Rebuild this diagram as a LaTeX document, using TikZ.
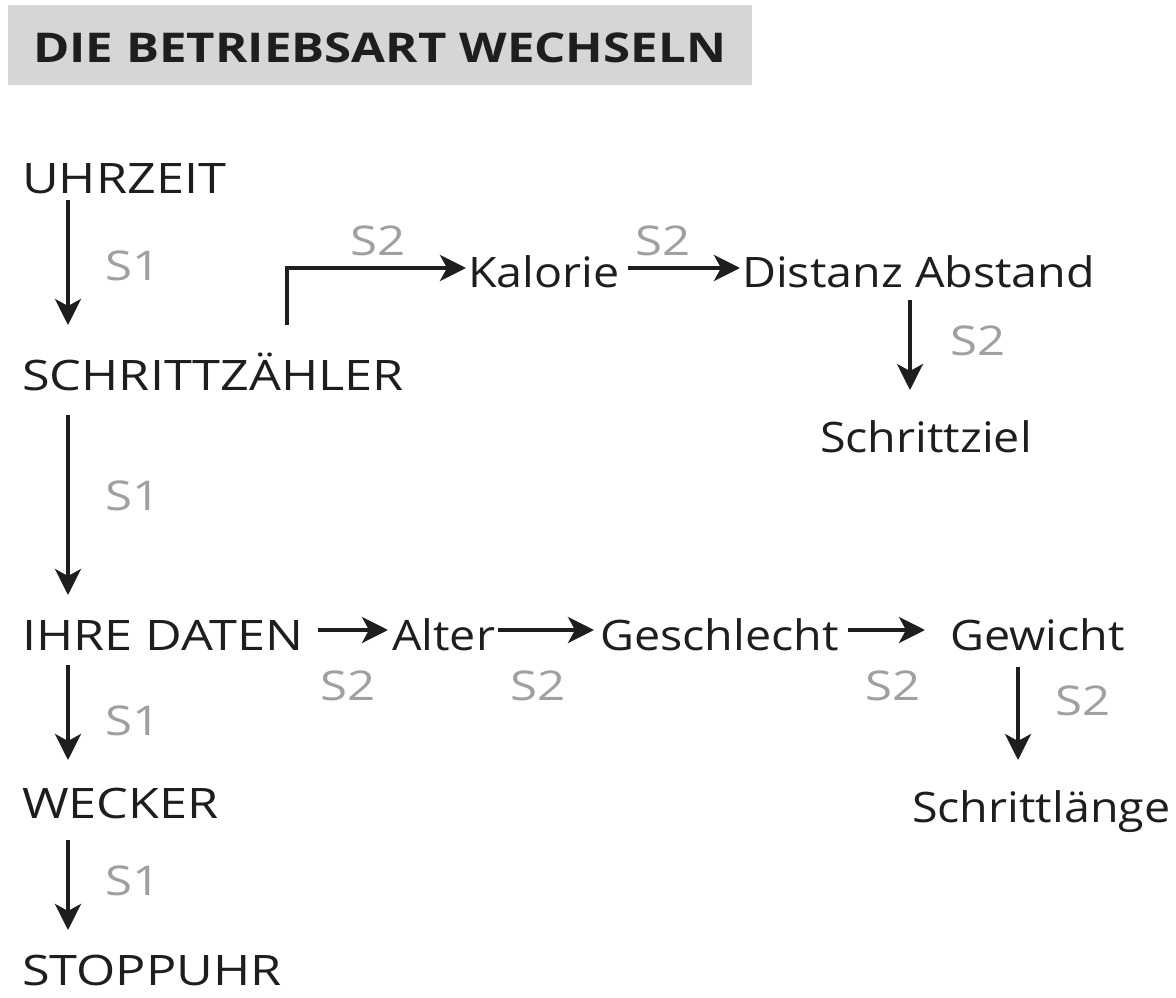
\documentclass[tikz,border=0pt]{standalone}
\usepackage{fontspec}
\setmainfont{Open Sans}[FakeStretch=1.11]
\newfontfamily\capsfont{Open Sans}[FakeStretch=1.2]
\usetikzlibrary{arrows.meta,calc}
\definecolor{bannergray}{RGB}{214,214,214}
\definecolor{labgray}{RGB}{160,160,160}
\definecolor{txt}{RGB}{30,30,30}
\begin{document}
\begin{tikzpicture}[x=1pt,y=-1pt,
  item/.style={inner sep=0pt,anchor=base west,text=txt,font=\fontsize{42}{48}\selectfont},
  capitem/.style={inner sep=0pt,anchor=base west,text=txt,font=\capsfont\fontsize{42}{48}\selectfont},
  lab/.style={inner sep=0pt,anchor=base west,text=labgray,font=\capsfont\fontsize{41}{46}\selectfont},
  arr/.style={line width=3.8pt,draw=txt,-{Stealth[length=26pt,width=26pt,inset=7pt]}}]
\useasboundingbox (0,0) rectangle (1176,998);
\fill[bannergray] (8,5) rectangle (752,85);
\node[inner sep=0pt,anchor=base west,text=txt,font=\capsfont\fontsize{41}{46}\selectfont\bfseries] (title) at (33,63) {DIE BETRIEBSART WECHSELN};

\node[capitem] (uhr) at (22,193) {UHRZEIT};
\node[capitem] (sz) at (22,390) {SCHRITTZÄHLER};
\node[item] (kal) at (468,287) {Kalorie};
\node[item] (dist) at (742,287) {Distanz Abstand};
\node[item] (ziel) at (820,452) {Schrittziel};
\node[capitem] (ihre) at (22,650) {IHRE DATEN};
\node[item] (alter) at (392,650) {Alter};
\node[item] (ges) at (600,650) {Geschlecht};
\node[item] (gew) at (950,650) {Gewicht};
\node[item] (slaenge) at (912,822) {Schrittlänge};
\node[capitem] (weck) at (22,818) {WECKER};
\node[capitem] (stopp) at (22,985) {STOPPUHR};

% labels
\node[lab] (l1) at (105,280) {S1};
\node[lab] (l2) at (350,255) {S2};
\node[lab] (l3) at (635,255) {S2};
\node[lab] (l4) at (950,355) {S2};
\node[lab] (l5) at (105,510) {S1};
\node[lab] (l6) at (320,700) {S2};
\node[lab] (l7) at (510,700) {S2};
\node[lab] (l8) at (865,700) {S2};
\node[lab] (l9) at (1055,715) {S2};
\node[lab] (l10) at (105,735) {S1};
\node[lab] (l11) at (105,895) {S1};

% vertical left chain
\draw[arr] ($(uhr.base west)+(46,7)$) -- ($(sz.base west)+(46,-65)$);
\draw[arr] ($(sz.base west)+(46,25)$) -- ($(ihre.base west)+(46,-55)$);
\draw[arr] ($(ihre.base west)+(46,15)$) -- ($(weck.base west)+(46,-58)$);
\draw[arr] ($(weck.base west)+(46,22)$) -- ($(stopp.base west)+(46,-55)$);

% elbow to Kalorie
\draw[arr] ($(sz.base west)+(265,-65)$) |- ($(kal.base west)+(-2,-19)$);
\draw[arr] ($(kal.base east)+(8,-19)$) -- ($(dist.base west)+(-2,-19)$);
\draw[arr] ($(dist.base west)+(168,13)$) -- ($(ziel.base west)+(90,-62)$);

% row IHRE DATEN
\draw[arr] ($(ihre.base east)+(14,-20)$) -- ($(alter.base west)+(-4,-20)$);
\draw[arr] ($(alter.base east)+(3,-20)$) -- ($(ges.base west)+(-6,-20)$);
\draw[arr] ($(ges.base east)+(9,-20)$) -- ($(gew.base west)+(-25,-20)$);
\draw[arr] ($(gew.base west)+(68,17)$) -- ($(slaenge.base west)+(106,-62)$);
\end{tikzpicture}
\end{document}
